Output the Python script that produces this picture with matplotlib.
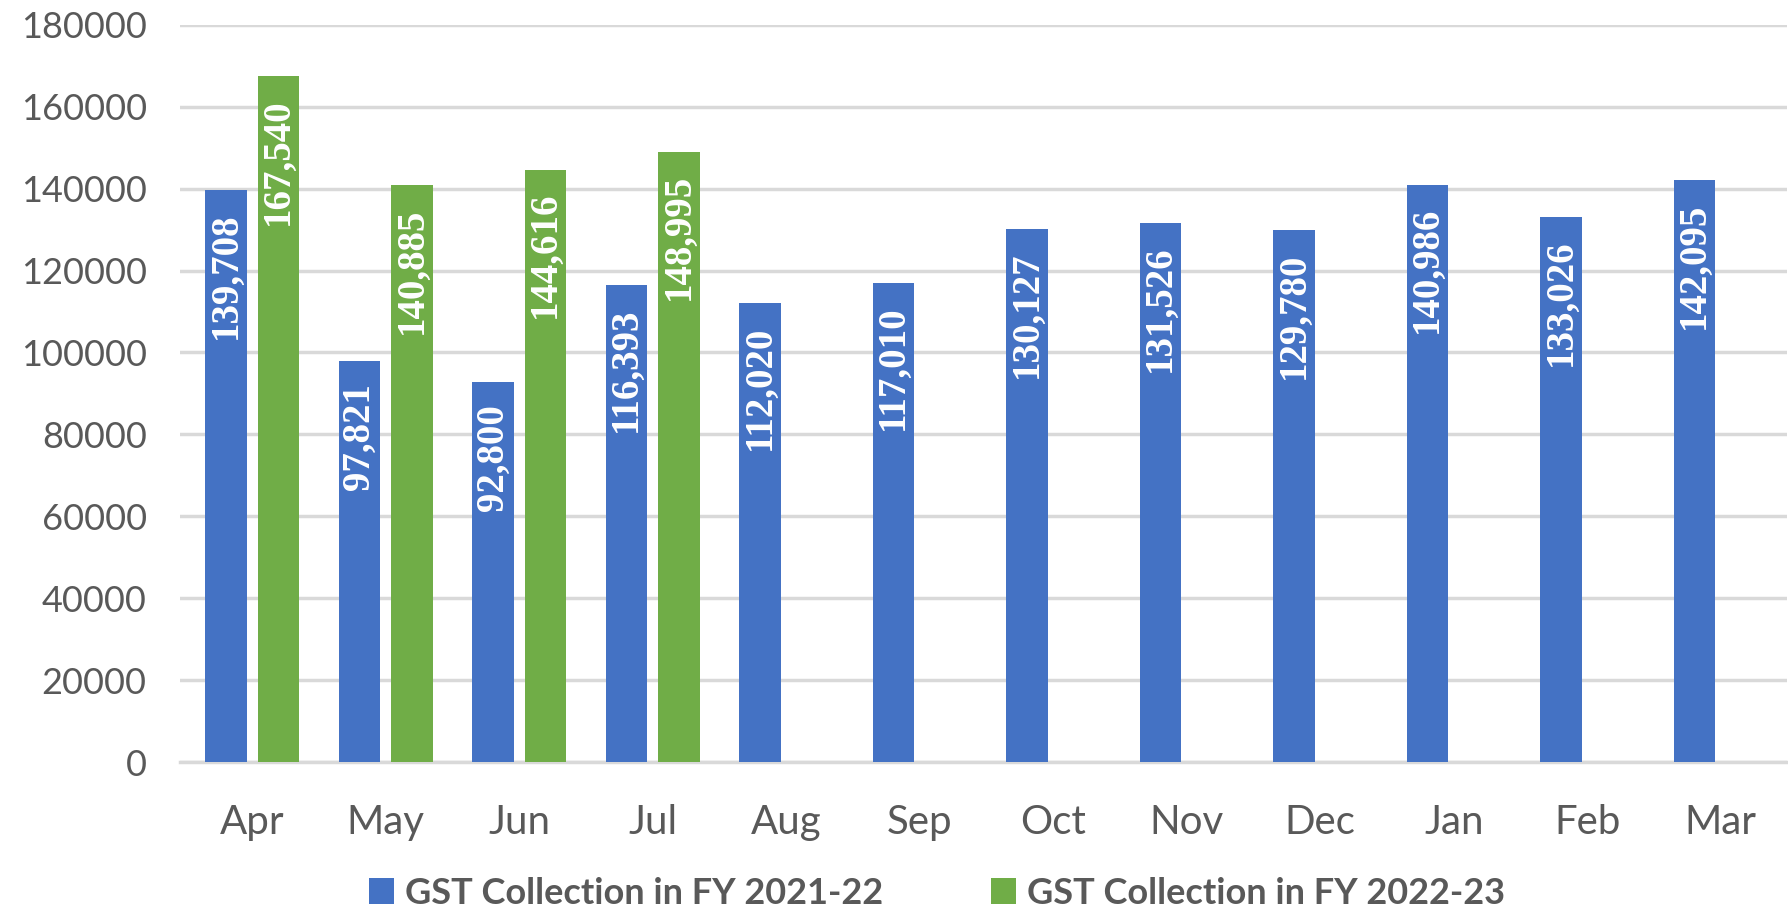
import numpy as np
import matplotlib
matplotlib.use("Agg")
import matplotlib.pyplot as plt

meses = ["Apr", "May", "Jun", "Jul", "Aug", "Sep", "Oct", "Nov", "Dec", "Jan", "Feb", "Mar"]
gst_2122 = [139708, 97821, 92800, 116393, 112020, 117010, 130127, 131526, 129780, 140986, 133026, 142095]
gst_2223 = [167540, 140885, 144616, 148995]
yticks = [0, 20000, 40000, 60000, 80000, 100000, 120000, 140000, 160000, 180000]

azul = "#4472C4"
verde = "#70AD47"
cinza = "#595959"

fig = plt.figure(figsize=(17.88, 9.17), dpi=100)
ax = fig.add_axes([0.1007, 0.169, 0.899, 0.804])

x = np.arange(len(meses))
larg = 0.31
desl = 0.196

ax.bar(x - desl, gst_2122, larg, color=azul, label="GST Collection in FY 2021-22", zorder=3)
ax.bar(x[:len(gst_2223)] + desl, gst_2223, larg, color=verde, label="GST Collection in FY 2022-23", zorder=3)

# rotulos dentro das barras, alinhados ao topo
def rotular(xs, vals):
    for xi, v in zip(xs, vals):
        ax.annotate(f"{v:,}", (xi, v), xytext=(0, -16), textcoords="offset points",
                    rotation=90, ha="center", va="top", color="white",
                    fontsize=28, fontweight="bold", family="Liberation Serif", zorder=4)

rotular(x - desl, gst_2122)
rotular(x[:len(gst_2223)] + desl, gst_2223)

ax.set_xlim(-0.54, 11.5)
ax.set_ylim(0, 180000)
ax.set_yticks(yticks)
ax.set_yticklabels([str(t) for t in yticks])
ax.set_xticks(x)
ax.set_xticklabels(meses)

ax.grid(axis="y", color="#D9D9D9", linewidth=2.5, zorder=0)
ax.tick_params(axis="both", length=0, labelcolor=cinza)
ax.tick_params(axis="x", pad=30, labelsize=29)
ax.tick_params(axis="y", pad=24, labelsize=26)
for lab in ax.get_xticklabels() + ax.get_yticklabels():
    lab.set_family("Lato")
for s in ["top", "right", "left"]:
    ax.spines[s].set_visible(False)
ax.spines["bottom"].set_color("#D9D9D9")
ax.spines["bottom"].set_linewidth(2.5)

leg = fig.legend(loc="center", bbox_to_anchor=(0.524, 0.026), ncol=2, frameon=False,
                 prop={"family": "Lato", "weight": "bold", "size": 26},
                 handlelength=0.7, handleheight=0.7, handletextpad=0.3, columnspacing=3.0)
for t in leg.get_texts():
    t.set_color(cinza)

fig.savefig("out.png", dpi=100)
